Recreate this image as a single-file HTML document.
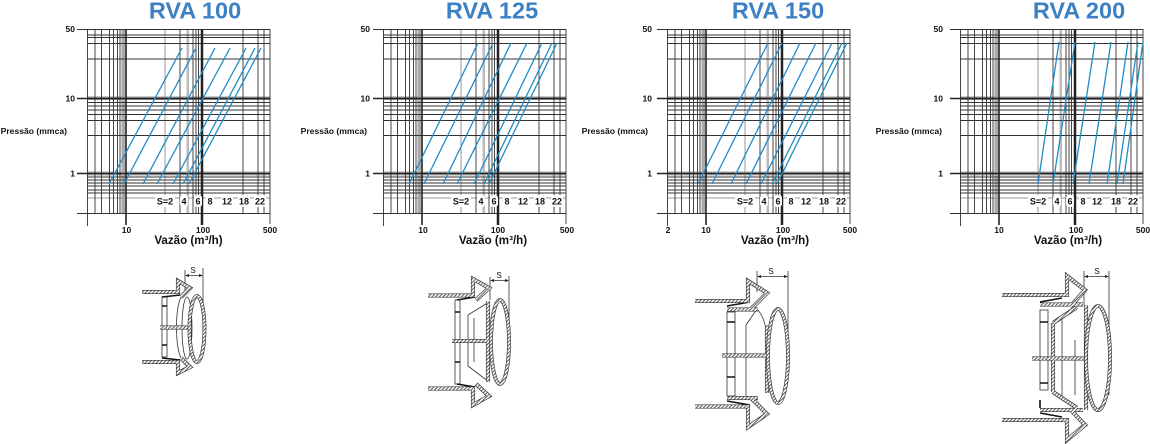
<!DOCTYPE html>
<html><head><meta charset="utf-8">
<style>
html,body{margin:0;padding:0;background:#fff;width:1150px;height:444px;overflow:hidden}
svg{display:block}
text{font-family:"Liberation Sans",Arial,sans-serif;font-weight:bold;fill:#111}
.t{fill:#3d80c3;font-size:23.5px;text-anchor:middle}
.yl{font-size:8.5px;text-anchor:end}
.xl{font-size:8.5px;text-anchor:middle}
.vz{font-size:11.6px;text-anchor:middle}
.sl{font-size:9px;text-anchor:middle}
.ds{font-size:8px;font-weight:normal;text-anchor:middle}
.bl{stroke:#1f8cc6;stroke-width:1.3;fill:none}
.th{stroke:#333;stroke-width:0.8;fill:none}
</style></head><body>
<svg width="1150" height="444" viewBox="0 0 1150 444" xmlns="http://www.w3.org/2000/svg" xmlns:xlink="http://www.w3.org/1999/xlink">
<defs>
<pattern id="h" patternUnits="userSpaceOnUse" width="2.6" height="2.6" patternTransform="rotate(45)">
<rect width="2.6" height="2.6" fill="#fff"/><line x1="0.6" y1="0" x2="0.6" y2="2.6" stroke="#444" stroke-width="0.9"/></pattern>
<g id="g" fill="none">
<rect x="121.5" y="29" width="3.5" height="184" fill="#aaa"/>
<rect x="186.5" y="29" width="2.5" height="184" fill="#bbb"/>
<rect x="87" y="96.5" width="183" height="3.5" fill="#999"/>
<rect x="87" y="171.5" width="183" height="4" fill="#aaa"/>
<path stroke="#999" stroke-width="1" d="M165,29V213 M87,198H270"/>
<path stroke="#333" stroke-width="0.9" d="M77,29.5H270 M87,35H270 M87,37.5H270 M87,43.5H270 M87,59H270 M87,102.5H270 M87,106H270 M87,110H270 M87,114.5H270 M87,120.5H270 M87,135.5H270 M87,177H270 M87,180H270 M87,183H270 M87,186H270 M87,190H270 M87,193H270 M77,213.5H270
M95,29V213 M101.5,29V213 M109.5,29V213 M113.5,29V213 M117.5,29V213 M120,29V213 M180,29V213 M193,29V213 M196,29V213 M198.5,29V213 M243,29V213 M258,29V213 M264,29V213 M270,29V224 M87.5,29V226"/>
<path stroke="#222" stroke-width="1.6" d="M77,98.5H270 M77,173.5H270 M126,29V225"/>
<path stroke="#222" stroke-width="2.5" d="M202,29V225"/>
</g>
<path id="d1h" d="M142,292H178V281L190,288L181,297 M142,362H178V373L190,367L181,358 M160,327.5H190"/>
<ellipse id="d1e" cx="197" cy="329" rx="7.5" ry="33"/>
<path id="d2h" d="M428,295.5H473V279L489,288L476,300 M428,388.5H473V405L489,396L476,384 M452,341H488 M488,301V382"/>
<ellipse id="d2e" cx="500" cy="342" rx="9" ry="42"/>
<path id="d3h" d="M695,301H748V281L767,293L751,309 M727,309.5H758 M695,406.5H748V427L767,414L751,398 M727,398H758 M722,355.5H767 M767,325V393"/>
<ellipse id="d3e" cx="778" cy="356" rx="10" ry="47"/>
<path id="d4h" d="M1002,295H1067V276L1085,290L1070,307 M1040,304.5H1083 M1002,420H1067V440L1085,425L1070,409 M1040,410H1083 M1032,358.5H1087 M1053,323L1077,307 M1053,392L1077,408 M1053,323V392 M1086,305V410"/>
<ellipse id="d4e" cx="1098" cy="358" rx="12" ry="52"/>
</defs>

<!-- grids -->
<use href="#g" xlink:href="#g"/>
<use href="#g" xlink:href="#g" transform="translate(296,0)"/>
<use href="#g" xlink:href="#g" transform="translate(580,0)"/>
<use href="#g" xlink:href="#g" transform="translate(873,0)"/>

<!-- blue curves -->
<path class="bl" d="M109,184L182,48 M124,184L196,48 M143,184L215,48 M157,184L230,48 M173,184L246,48 M183,184L255,48 M189,184L261,48"/>
<path class="bl" d="M409,184L478,43 M424,184L493,43 M443,184L511,43 M457,184L527,43 M474,184L542,43 M484,184L552,43 M489,184L557,43"/>
<path class="bl" d="M698,184L768,43 M712,184L782,43 M731,184L800,43 M746,184L816,43 M761,184L832,43 M772,184L842,43 M777,184L847,43"/>
<path class="bl" d="M1038,184L1059,42 M1053,184L1075,42 M1073,184L1095,42 M1089,184L1111,42 M1107,184L1128,42 M1117,184L1138,42 M1123,184L1143,42"/>

<!-- S label backgrounds -->
<g fill="#fff">
<rect x="155" y="195" width="20" height="12" rx="3"/><rect x="180" y="195" width="8" height="12" rx="3"/><rect x="194" y="195" width="8" height="12" rx="3"/><rect x="206" y="195" width="8" height="12" rx="3"/><rect x="221" y="195" width="12" height="12" rx="3"/><rect x="238" y="195" width="12" height="12" rx="3"/><rect x="254" y="195" width="12" height="12" rx="3"/>
<rect x="451" y="195" width="20" height="12" rx="3"/><rect x="477" y="195" width="8" height="12" rx="3"/><rect x="490" y="195" width="8" height="12" rx="3"/><rect x="503" y="195" width="8" height="12" rx="3"/><rect x="517" y="195" width="12" height="12" rx="3"/><rect x="534" y="195" width="12" height="12" rx="3"/><rect x="551" y="195" width="12" height="12" rx="3"/>
<rect x="735" y="195" width="20" height="12" rx="3"/><rect x="760" y="195" width="8" height="12" rx="3"/><rect x="774" y="195" width="8" height="12" rx="3"/><rect x="787" y="195" width="8" height="12" rx="3"/><rect x="800" y="195" width="12" height="12" rx="3"/><rect x="818" y="195" width="12" height="12" rx="3"/><rect x="835" y="195" width="12" height="12" rx="3"/>
<rect x="1028" y="195" width="20" height="12" rx="3"/><rect x="1053" y="195" width="8" height="12" rx="3"/><rect x="1066" y="195" width="8" height="12" rx="3"/><rect x="1079" y="195" width="8" height="12" rx="3"/><rect x="1091" y="195" width="12" height="12" rx="3"/><rect x="1110" y="195" width="12" height="12" rx="3"/><rect x="1127" y="195" width="12" height="12" rx="3"/>
</g>

<!-- Chart 1 text -->
<text class="t" x="195" y="18.5">RVA 100</text>
<text class="yl" x="75" y="32">50</text><text class="yl" x="75" y="101.5">10</text><text class="yl" x="75" y="176.5">1</text>
<text class="yl" x="67" y="134" style="font-size:8.6px">Pressão (mmca)</text>
<text class="xl" x="126.5" y="233">10</text><text class="xl" x="203" y="233">100</text><text class="xl" x="270" y="233">500</text>
<text class="vz" x="188.5" y="244">Vazão (m³/h)</text>
<text class="sl" x="165" y="204.5">S=2</text><text class="sl" x="184" y="204.5">4</text><text class="sl" x="198" y="204.5">6</text><text class="sl" x="210" y="204.5">8</text><text class="sl" x="227" y="204.5">12</text><text class="sl" x="244" y="204.5">18</text><text class="sl" x="260" y="204.5">22</text>

<!-- Chart 2 text -->
<text class="t" x="492" y="18.5">RVA 125</text>
<text class="yl" x="370" y="32">50</text><text class="yl" x="370" y="101.5">10</text><text class="yl" x="370" y="176.5">1</text>
<text class="yl" x="367" y="134" style="font-size:8.6px">Pressão (mmca)</text>
<text class="xl" x="423" y="233">10</text><text class="xl" x="498" y="233">100</text><text class="xl" x="567" y="233">500</text>
<text class="vz" x="493" y="244">Vazão (m³/h)</text>
<text class="sl" x="461" y="204.5">S=2</text><text class="sl" x="481" y="204.5">4</text><text class="sl" x="494" y="204.5">6</text><text class="sl" x="507" y="204.5">8</text><text class="sl" x="523" y="204.5">12</text><text class="sl" x="540" y="204.5">18</text><text class="sl" x="557" y="204.5">22</text>

<!-- Chart 3 text -->
<text class="t" x="778" y="18.5">RVA 150</text>
<text class="yl" x="652" y="32">50</text><text class="yl" x="652" y="101.5">10</text><text class="yl" x="652" y="176.5">1</text>
<text class="yl" x="648" y="134" style="font-size:8.6px">Pressão (mmca)</text>
<text class="xl" x="668" y="233">2</text><text class="xl" x="706" y="233">10</text><text class="xl" x="783" y="233">100</text><text class="xl" x="850" y="233">500</text>
<text class="vz" x="775" y="244">Vazão (m³/h)</text>
<text class="sl" x="745" y="204.5">S=2</text><text class="sl" x="764" y="204.5">4</text><text class="sl" x="778" y="204.5">6</text><text class="sl" x="791" y="204.5">8</text><text class="sl" x="806" y="204.5">12</text><text class="sl" x="824" y="204.5">18</text><text class="sl" x="841" y="204.5">22</text>

<!-- Chart 4 text -->
<text class="t" x="1079" y="18.5">RVA 200</text>
<text class="yl" x="943" y="32">50</text><text class="yl" x="943" y="101.5">10</text><text class="yl" x="943" y="176.5">1</text>
<text class="yl" x="942" y="134" style="font-size:8.6px">Pressão (mmca)</text>
<text class="xl" x="999" y="233">10</text><text class="xl" x="1076" y="233">100</text><text class="xl" x="1143" y="233">500</text>
<text class="vz" x="1068" y="244">Vazão (m³/h)</text>
<text class="sl" x="1038" y="204.5">S=2</text><text class="sl" x="1057" y="204.5">4</text><text class="sl" x="1070" y="204.5">6</text><text class="sl" x="1083" y="204.5">8</text><text class="sl" x="1097" y="204.5">12</text><text class="sl" x="1116" y="204.5">18</text><text class="sl" x="1133" y="204.5">22</text>

<!-- Drawing 1 -->
<path class="th" d="M185,270V292 M203,268V330 M187,275.5H201"/>
<path fill="#222" d="M185,275.5L189,274V277Z M203,275.5L199,274V277Z"/>
<text class="ds" x="193" y="273">S</text>
<rect x="162" y="297" width="5" height="60" fill="#fff" stroke="#333" stroke-width="0.8"/>
<path stroke="#111" stroke-width="1.6" d="M162,306H167 M162,345H167 M162,297L180,295 M162,358L180,360"/>
<path class="th" d="M181,297C175,310 175,345 181,358"/>
<ellipse class="th" cx="187" cy="328" rx="5" ry="31"/>
<use href="#d1h" xlink:href="#d1h" fill="none" stroke="#333" stroke-width="4.1"/>
<use href="#d1h" xlink:href="#d1h" fill="none" stroke="url(#h)" stroke-width="2.8"/>
<use href="#d1e" xlink:href="#d1e" fill="none" stroke="#333" stroke-width="3.8"/>
<use href="#d1e" xlink:href="#d1e" fill="none" stroke="url(#h)" stroke-width="2.5"/>

<!-- Drawing 2 -->
<path class="th" d="M490,277V300 M509,276V345 M492,280.5H507"/>
<path fill="#222" d="M490,280.5L494,279V282Z M509,280.5L505,279V282Z"/>
<text class="ds" x="499" y="278">S</text>
<rect x="455" y="300" width="5" height="84" fill="#fff" stroke="#333" stroke-width="0.8"/>
<path stroke="#111" stroke-width="1.6" d="M455,312H460 M455,362H460 M457,300L475,297 M457,384L475,387"/>
<path class="th" d="M468,315L489,302 M468,366L489,382 M468,315V366 M474,318V362"/>
<use href="#d2h" xlink:href="#d2h" fill="none" stroke="#333" stroke-width="4.1"/>
<use href="#d2h" xlink:href="#d2h" fill="none" stroke="url(#h)" stroke-width="2.8"/>
<use href="#d2e" xlink:href="#d2e" fill="none" stroke="#333" stroke-width="3.8"/>
<use href="#d2e" xlink:href="#d2e" fill="none" stroke="url(#h)" stroke-width="2.5"/>

<!-- Drawing 3 -->
<path class="th" d="M757,271V292 M788,271V355 M759,276.5H786"/>
<path fill="#222" d="M757,276.5L761,275V278Z M788,276.5L784,275V278Z"/>
<text class="ds" x="771" y="274">S</text>
<rect x="727" y="312" width="8" height="84" fill="#fff" stroke="#333" stroke-width="0.8"/>
<path stroke="#111" stroke-width="1.6" d="M727,322H735 M727,377H735 M727,306L750,302 M727,401L750,405"/>
<path class="th" d="M746,325L757,309 M746,325V397 M757,309C766,318 768,335 767,355"/>
<use href="#d3h" xlink:href="#d3h" fill="none" stroke="#333" stroke-width="4.1"/>
<use href="#d3h" xlink:href="#d3h" fill="none" stroke="url(#h)" stroke-width="2.8"/>
<use href="#d3e" xlink:href="#d3e" fill="none" stroke="#333" stroke-width="3.8"/>
<use href="#d3e" xlink:href="#d3e" fill="none" stroke="url(#h)" stroke-width="2.5"/>

<!-- Drawing 4 -->
<path class="th" d="M1084,271V305 M1109,271V395 M1086,276.5H1107"/>
<path fill="#222" d="M1084,276.5L1088,275V278Z M1109,276.5L1105,275V278Z"/>
<text class="ds" x="1097" y="274">S</text>
<rect x="1040" y="310" width="8" height="80" fill="#fff" stroke="#333" stroke-width="0.8"/>
<path stroke="#111" stroke-width="1.6" d="M1040,322H1048 M1040,383H1048 M1040,302L1062,298 M1040,413L1062,417 M1040,400V408"/>
<path class="th" d="M1075,340V395 M1062,315V400"/>
<use href="#d4h" xlink:href="#d4h" fill="none" stroke="#333" stroke-width="4.1"/>
<use href="#d4h" xlink:href="#d4h" fill="none" stroke="url(#h)" stroke-width="2.8"/>
<use href="#d4e" xlink:href="#d4e" fill="none" stroke="#333" stroke-width="3.8"/>
<use href="#d4e" xlink:href="#d4e" fill="none" stroke="url(#h)" stroke-width="2.5"/>
</svg>
</body></html>
